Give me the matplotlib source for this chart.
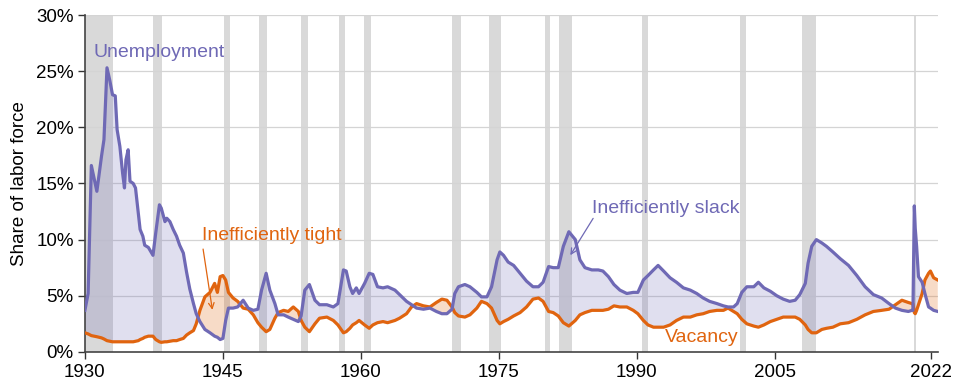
import numpy as np
import matplotlib
matplotlib.use("Agg")
import matplotlib.pyplot as plt
from matplotlib.ticker import FuncFormatter

plt.rcParams['font.family'] = ['Liberation Sans', 'DejaVu Sans']

# unemployment and vacancy rates, % of labor force, on a shared time grid
years = [
    1930.0, 1930.35, 1930.7, 1931.3, 1931.8, 1932.07, 1932.4, 1932.7, 1933.0, 1933.3,
    1933.5, 1933.8, 1934.1, 1934.3, 1934.46, 1934.7, 1934.9, 1935.25, 1935.5, 1935.8,
    1936.0, 1936.3, 1936.5, 1936.9, 1937.4, 1937.7, 1938.1, 1938.3, 1938.7, 1938.9,
    1939.24, 1939.6, 1939.96, 1940.3, 1940.7, 1941.05, 1941.4, 1941.8, 1942.1, 1942.5,
    1943.04, 1943.6, 1944.1, 1944.4, 1944.7, 1945.0, 1945.3, 1945.6, 1946.1, 1946.6,
    1947.2, 1947.75, 1948.3, 1948.8, 1949.2, 1949.7, 1950.1, 1950.65, 1951.0, 1951.6,
    1952.1, 1952.65, 1953.2, 1953.5, 1953.9, 1954.4, 1955.0, 1955.5, 1956.3, 1957.0,
    1957.5, 1958.1, 1958.4, 1958.8, 1959.1, 1959.5, 1959.8, 1960.4, 1960.9, 1961.3,
    1961.8, 1962.4, 1962.9, 1963.7, 1964.2, 1964.96, 1965.5, 1966.05, 1966.8, 1967.5,
    1968.2, 1968.8, 1969.35, 1969.9, 1970.2, 1970.6, 1971.3, 1971.85, 1972.6, 1973.1,
    1973.7, 1974.2, 1974.8, 1975.1, 1975.5, 1976.0, 1976.6, 1977.3, 1978.0, 1978.7,
    1979.3, 1979.8, 1980.4, 1980.9, 1981.45, 1982.0, 1982.6, 1983.3, 1983.8, 1984.35,
    1985.1, 1985.8, 1986.3, 1986.9, 1987.5, 1988.15, 1988.9, 1989.6, 1990.1, 1990.7,
    1991.2, 1991.8, 1992.3, 1992.9, 1993.6, 1994.3, 1995.05, 1995.8, 1996.5, 1997.2,
    1997.9, 1998.7, 1999.4, 1999.9, 2000.5, 2000.9, 2001.4, 2001.95, 2002.7, 2003.2,
    2003.8, 2004.5, 2005.2, 2005.9, 2006.6, 2007.2, 2007.7, 2008.3, 2008.6, 2009.0,
    2009.5, 2010.1, 2010.6, 2011.3, 2012.1, 2013.0, 2013.9, 2014.8, 2015.7, 2016.6,
    2017.4, 2018.1, 2018.8, 2019.5, 2019.9, 2020.0, 2020.15, 2020.25, 2020.4, 2020.6,
    2021.0, 2021.3, 2021.7, 2021.9, 2022.25, 2022.7,
]
unemployment = [
    3.7, 5.2, 16.6, 14.3, 17.4, 18.9, 25.3, 24.2, 22.9, 22.8,
    19.8, 18.3, 15.9, 14.6, 17.1, 18.0, 15.2, 15.0, 14.6, 12.4,
    10.9, 10.3, 9.5, 9.3, 8.6, 10.6, 13.1, 12.8, 11.6, 11.9,
    11.6, 10.9, 10.3, 9.5, 8.8, 7.1, 5.6, 4.3, 3.4, 2.7,
    2.0, 1.7, 1.4, 1.3, 1.1, 1.2, 2.8, 3.9, 3.9, 4.0,
    4.6, 3.9, 3.7, 3.8, 5.5, 7.0, 5.5, 4.3, 3.3, 3.3,
    3.1, 2.9, 2.7, 3.2, 5.5, 6.0, 4.6, 4.2, 4.2, 4.0,
    4.3, 7.3, 7.2, 5.8, 5.2, 5.7, 5.2, 6.1, 7.0, 6.9,
    5.8, 5.7, 5.8, 5.5, 5.1, 4.5, 4.2, 3.9, 3.8, 3.9,
    3.6, 3.4, 3.4, 3.8, 5.2, 5.8, 6.0, 5.8, 5.3, 4.9,
    4.9, 5.8, 8.2, 8.9, 8.6, 8.0, 7.7, 7.0, 6.3, 5.8,
    5.8, 6.2, 7.6, 7.5, 7.5, 9.4, 10.7, 10.0, 8.2, 7.5,
    7.3, 7.3, 7.2, 6.7, 6.0, 5.5, 5.2, 5.3, 5.3, 6.4,
    6.8, 7.3, 7.7, 7.2, 6.6, 6.2, 5.7, 5.5, 5.2, 4.8,
    4.5, 4.3, 4.1, 4.0, 4.0, 4.3, 5.3, 5.8, 5.8, 6.2,
    5.7, 5.4, 5.0, 4.7, 4.5, 4.6, 5.1, 6.1, 7.9, 9.4,
    10.0, 9.7, 9.4, 8.9, 8.3, 7.7, 6.8, 5.8, 5.1, 4.8,
    4.3, 3.9, 3.7, 3.6, 3.7, 3.7, 13.0, 11.0, 9.4, 6.7,
    6.2, 5.2, 4.0, 3.9, 3.7, 3.6,
]
vacancy = [
    1.7, 1.6, 1.45, 1.35, 1.25, 1.15, 1.0, 0.95, 0.9, 0.9,
    0.9, 0.9, 0.9, 0.9, 0.9, 0.9, 0.9, 0.9, 0.95, 1.0,
    1.1, 1.2, 1.3, 1.4, 1.4, 1.1, 0.9, 0.85, 0.9, 0.9,
    0.95, 1.0, 1.0, 1.1, 1.2, 1.5, 1.7, 1.9, 2.5, 3.7,
    4.9, 5.3, 6.1, 5.3, 6.7, 6.8, 6.4, 5.3, 4.8, 4.5,
    3.9, 3.8, 3.3, 2.6, 2.2, 1.8, 2.0, 3.0, 3.5, 3.7,
    3.6, 4.0, 3.6, 2.8, 2.2, 1.8, 2.5, 3.0, 3.1, 2.8,
    2.4, 1.7, 1.8, 2.1, 2.4, 2.6, 2.8, 2.4, 2.1, 2.4,
    2.6, 2.7, 2.6, 2.8, 3.0, 3.4, 4.0, 4.3, 4.1, 4.0,
    4.4, 4.7, 4.6, 4.0, 3.5, 3.2, 3.1, 3.3, 3.9, 4.5,
    4.3, 3.9, 2.8, 2.5, 2.7, 2.9, 3.2, 3.5, 4.0, 4.7,
    4.8, 4.5, 3.6, 3.5, 3.2, 2.6, 2.3, 2.8, 3.3, 3.5,
    3.7, 3.7, 3.7, 3.8, 4.1, 4.0, 4.0, 3.7, 3.4, 2.8,
    2.4, 2.2, 2.2, 2.2, 2.4, 2.8, 3.1, 3.1, 3.3, 3.4,
    3.6, 3.7, 3.7, 3.9, 3.6, 3.4, 2.9, 2.5, 2.3, 2.2,
    2.4, 2.7, 2.9, 3.1, 3.1, 3.1, 2.9, 2.4, 2.0, 1.7,
    1.7, 2.0, 2.1, 2.2, 2.5, 2.6, 2.9, 3.3, 3.6, 3.7,
    3.8, 4.2, 4.6, 4.4, 4.3, 4.3, 3.5, 3.4, 3.7, 4.2,
    5.2, 6.4, 7.0, 7.2, 6.6, 6.4,
]

# NBER recessions (start, end)
recessions = [
    (1929.6, 1933.1), (1937.4, 1938.4), (1945.1, 1945.8), (1948.9, 1949.8),
    (1953.5, 1954.3), (1957.6, 1958.3), (1960.3, 1961.1), (1969.9, 1970.9),
    (1973.9, 1975.2), (1980.0, 1980.5), (1981.5, 1982.9), (1990.5, 1991.2),
    (2001.2, 2001.9), (2007.9, 2009.5), (2020.1, 2020.3),
]

year_ticks = [1930, 1945, 1960, 1975, 1990, 2005, 2022]
pct_ticks = [0, 5, 10, 15, 20, 25, 30]

purple = '#6f69b5'
orange = '#e0640f'

x = np.array(years)
u = np.array(unemployment)
v = np.array(vacancy)

fig = plt.figure(figsize=(9.54, 3.85), dpi=100)
ax = fig.add_axes([0.089, 0.086, 0.894, 0.875])

for start, end in recessions:
    ax.axvspan(start, end, color='#d9d9d9', lw=0, zorder=0)

for t in pct_ticks[1:]:
    ax.axhline(t, color='#d4d4d4', lw=0.9, zorder=0.5)

ax.fill_between(x, u, v, where=u >= v, interpolate=True,
                color=purple, alpha=0.21, lw=0, zorder=1)
ax.fill_between(x, u, v, where=u < v, interpolate=True,
                color=orange, alpha=0.23, lw=0, zorder=1)

ax.plot(x, v, color=orange, lw=2.3, zorder=3, solid_joinstyle='round')
ax.plot(x, u, color=purple, lw=2.3, zorder=3, solid_joinstyle='round')

ax.set_xlim(1930, 2022.7)
ax.set_ylim(0, 30)
ax.set_xticks(year_ticks)
ax.set_yticks(pct_ticks)
ax.yaxis.set_major_formatter(FuncFormatter(lambda t, pos: f'{t:.0f}%'))
ax.tick_params(axis='both', labelsize=13.5, color='#333333', length=5, width=1)
ax.tick_params(axis='x', pad=4)
ax.tick_params(axis='y', pad=3)

for side in ['top', 'right']:
    ax.spines[side].set_visible(False)
for side in ['left', 'bottom']:
    ax.spines[side].set_color('#444444')
    ax.spines[side].set_linewidth(1.2)

ax.set_ylabel('Share of labor force', fontsize=13.5, labelpad=6)

ax.text(1930.9, 26.7, 'Unemployment', color=purple, fontsize=14, va='center')
ax.text(1985.1, 12.8, 'Inefficiently slack', color=purple, fontsize=14, va='center')
ax.text(1942.7, 10.4, 'Inefficiently tight', color=orange, fontsize=14, va='center')
ax.text(1993.0, 1.25, 'Vacancy', color=orange, fontsize=14, va='center')

ax.annotate('', xy=(1943.9, 3.5), xytext=(1942.8, 9.4),
            arrowprops=dict(arrowstyle='->', color=orange, lw=0.9))
ax.annotate('', xy=(1982.6, 8.4), xytext=(1985.4, 12.1),
            arrowprops=dict(arrowstyle='->', color=purple, lw=0.9))

fig.savefig('out.png', dpi=100)
